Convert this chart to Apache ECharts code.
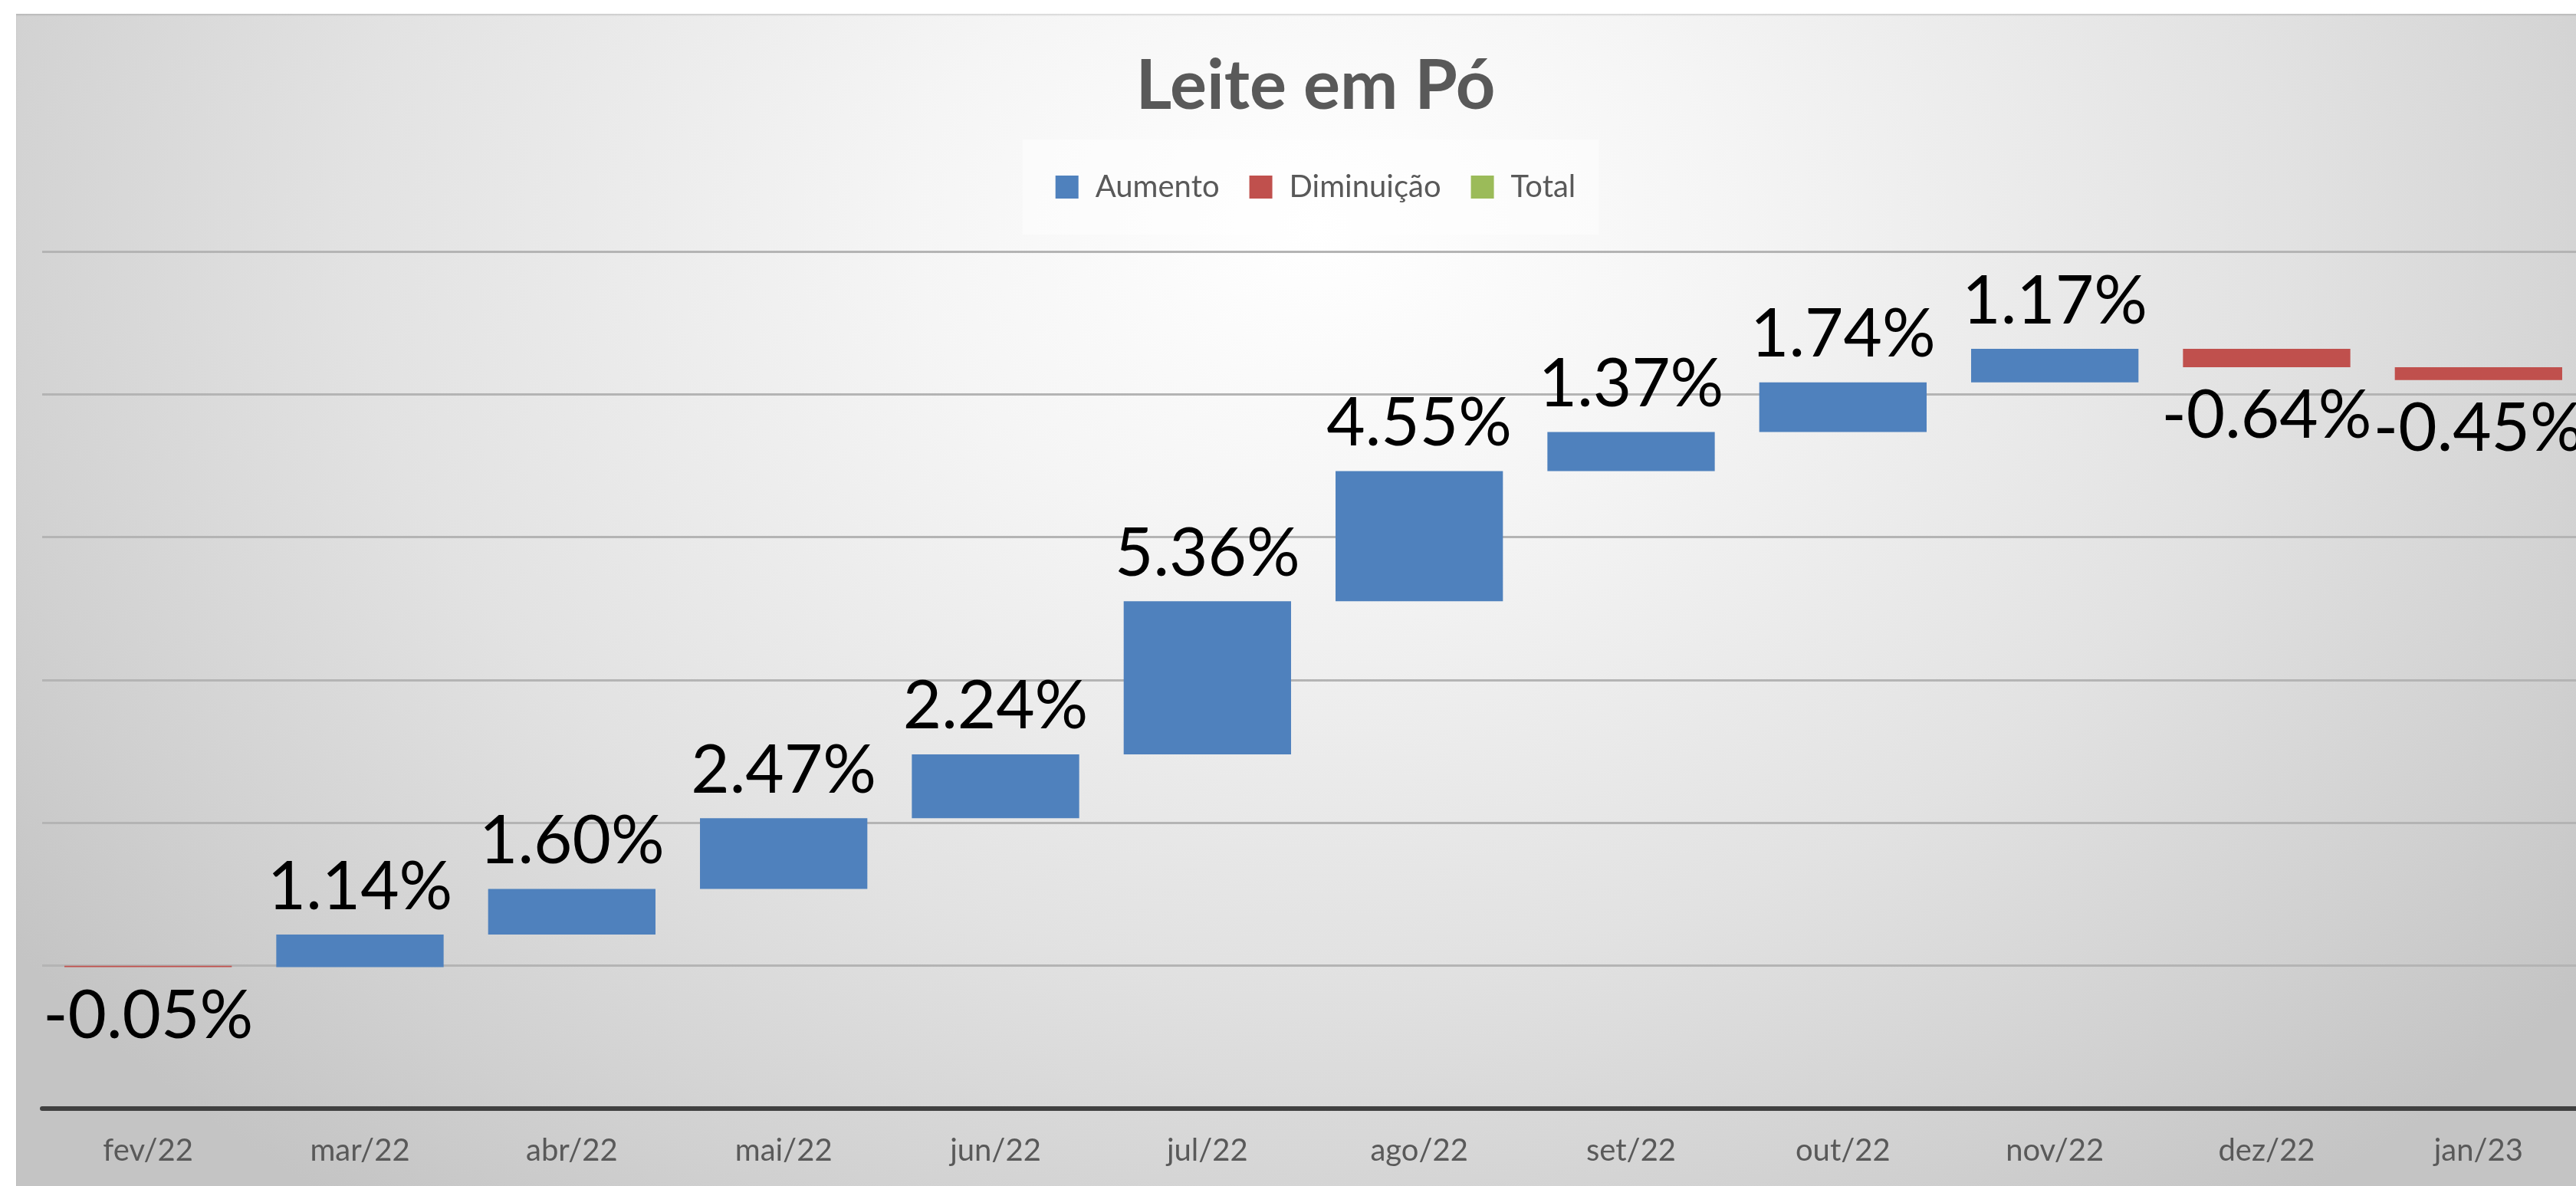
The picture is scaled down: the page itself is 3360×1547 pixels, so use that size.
<!DOCTYPE html>
<html>
<head>
<meta charset="utf-8">
<script src="https://cdn.jsdelivr.net/npm/echarts@6/dist/echarts.min.js"></script>
<style>
  html, body { margin: 0; padding: 0; background: #ffffff; overflow: hidden; width: 3360px; height: 1547px; }
  #chart {
    position: absolute; left: 21px; top: 18px; width: 3390px; height: 1529px;
    background: radial-gradient(ellipse 62% 105% at 50% 18%, #ffffff 0%, #f5f5f5 25%, #e2e2e2 60%, #d0d0d0 85%, #c4c4c4 100%);
    box-shadow: inset 0 2px 2px rgba(0,0,0,0.12);
  }
</style>
</head>
<body>
<div id="chart"></div>
<script>
// ---- data ----
const categories = ['fev/22', 'mar/22', 'abr/22', 'mai/22', 'jun/22', 'jul/22', 'ago/22', 'set/22', 'out/22', 'nov/22', 'dez/22', 'jan/23'];
const changes = [-0.05, 1.14, 1.60, 2.47, 2.24, 5.36, 4.55, 1.37, 1.74, 1.17, -0.64, -0.45];
const legendNames = ['Aumento', 'Diminuição', 'Total'];
const yMin = -5, yMax = 25, yStep = 5;
const chartTitle = 'Leite em Pó';

// ---- derived waterfall pieces ----
const baseData = [], upData = [], downData = [], totalData = [];
let running = 0;
changes.forEach(function (v) {
  const next = running + v;
  baseData.push(Math.min(running, next));
  upData.push(v >= 0 ? v : 0);
  downData.push(v < 0 ? -v : 0);
  totalData.push(0);
  running = next;
});

const FONT = 'Lato, "Open Sans", sans-serif';
const upFmt = function (p) { return changes[p.dataIndex] >= 0 ? changes[p.dataIndex].toFixed(2) + '%' : ''; };
const downFmt = function (p) { return changes[p.dataIndex] < 0 ? changes[p.dataIndex].toFixed(2) + '%' : ''; };

const chart = echarts.init(document.getElementById('chart'), null, { renderer: 'canvas' });
chart.setOption({
  backgroundColor: 'transparent',
  animation: false,
  title: {
    text: chartTitle,
    left: 'center',
    top: 50,
    padding: 0,
    textStyle: { fontFamily: FONT, fontSize: 90, fontWeight: 'bold', color: '#595959' }
  },
  legend: {
    data: legendNames,
    left: 'center',
    top: 164,
    icon: 'rect',
    itemWidth: 30,
    itemHeight: 30,
    itemGap: 39,
    padding: [42, 30, 42, 43],
    backgroundColor: 'rgba(255,255,255,0.45)',
    textStyle: { fontFamily: FONT, fontSize: 40, color: '#595959', padding: [0, 0, 0, 17] }
  },
  grid: { left: 34, right: 40, top: 310, bottom: 101, containLabel: false },
  xAxis: {
    type: 'category',
    data: categories,
    axisLine: { onZero: false, lineStyle: { color: '#404040', width: 6 } },
    axisTick: { show: false },
    axisLabel: { fontFamily: FONT, fontSize: 40, color: '#595959', margin: 35 },
    splitLine: { show: false }
  },
  yAxis: {
    type: 'value',
    min: yMin, max: yMax, interval: yStep,
    axisLine: { show: false },
    axisTick: { show: false },
    axisLabel: { show: false },
    splitLine: { show: true, lineStyle: { color: '#b4b4b4', width: 3 } }
  },
  series: [
    {
      name: 'base', type: 'bar', stack: 'wf', stackStrategy: 'all',
      data: baseData, barCategoryGap: '21%',
      itemStyle: { color: 'transparent' },
      emphasis: { disabled: true }, silent: true
    },
    {
      name: 'Aumento', type: 'bar', stack: 'wf', stackStrategy: 'all',
      data: upData,
      itemStyle: { color: '#4f81bd' },
      label: { show: true, position: 'top', distance: 18, formatter: upFmt,
               fontFamily: FONT, fontSize: 87, color: '#000000' }
    },
    {
      name: 'Diminuição', type: 'bar', stack: 'wf', stackStrategy: 'all',
      data: downData,
      itemStyle: { color: '#c0504d' },
      label: { show: true, position: 'bottom', distance: 21, formatter: downFmt,
               fontFamily: FONT, fontSize: 87, color: '#000000' }
    },
    {
      name: 'Total', type: 'bar', stack: 'wf', stackStrategy: 'all',
      data: totalData,
      itemStyle: { color: '#9bbb59' }
    }
  ]
});
</script>
</body>
</html>
